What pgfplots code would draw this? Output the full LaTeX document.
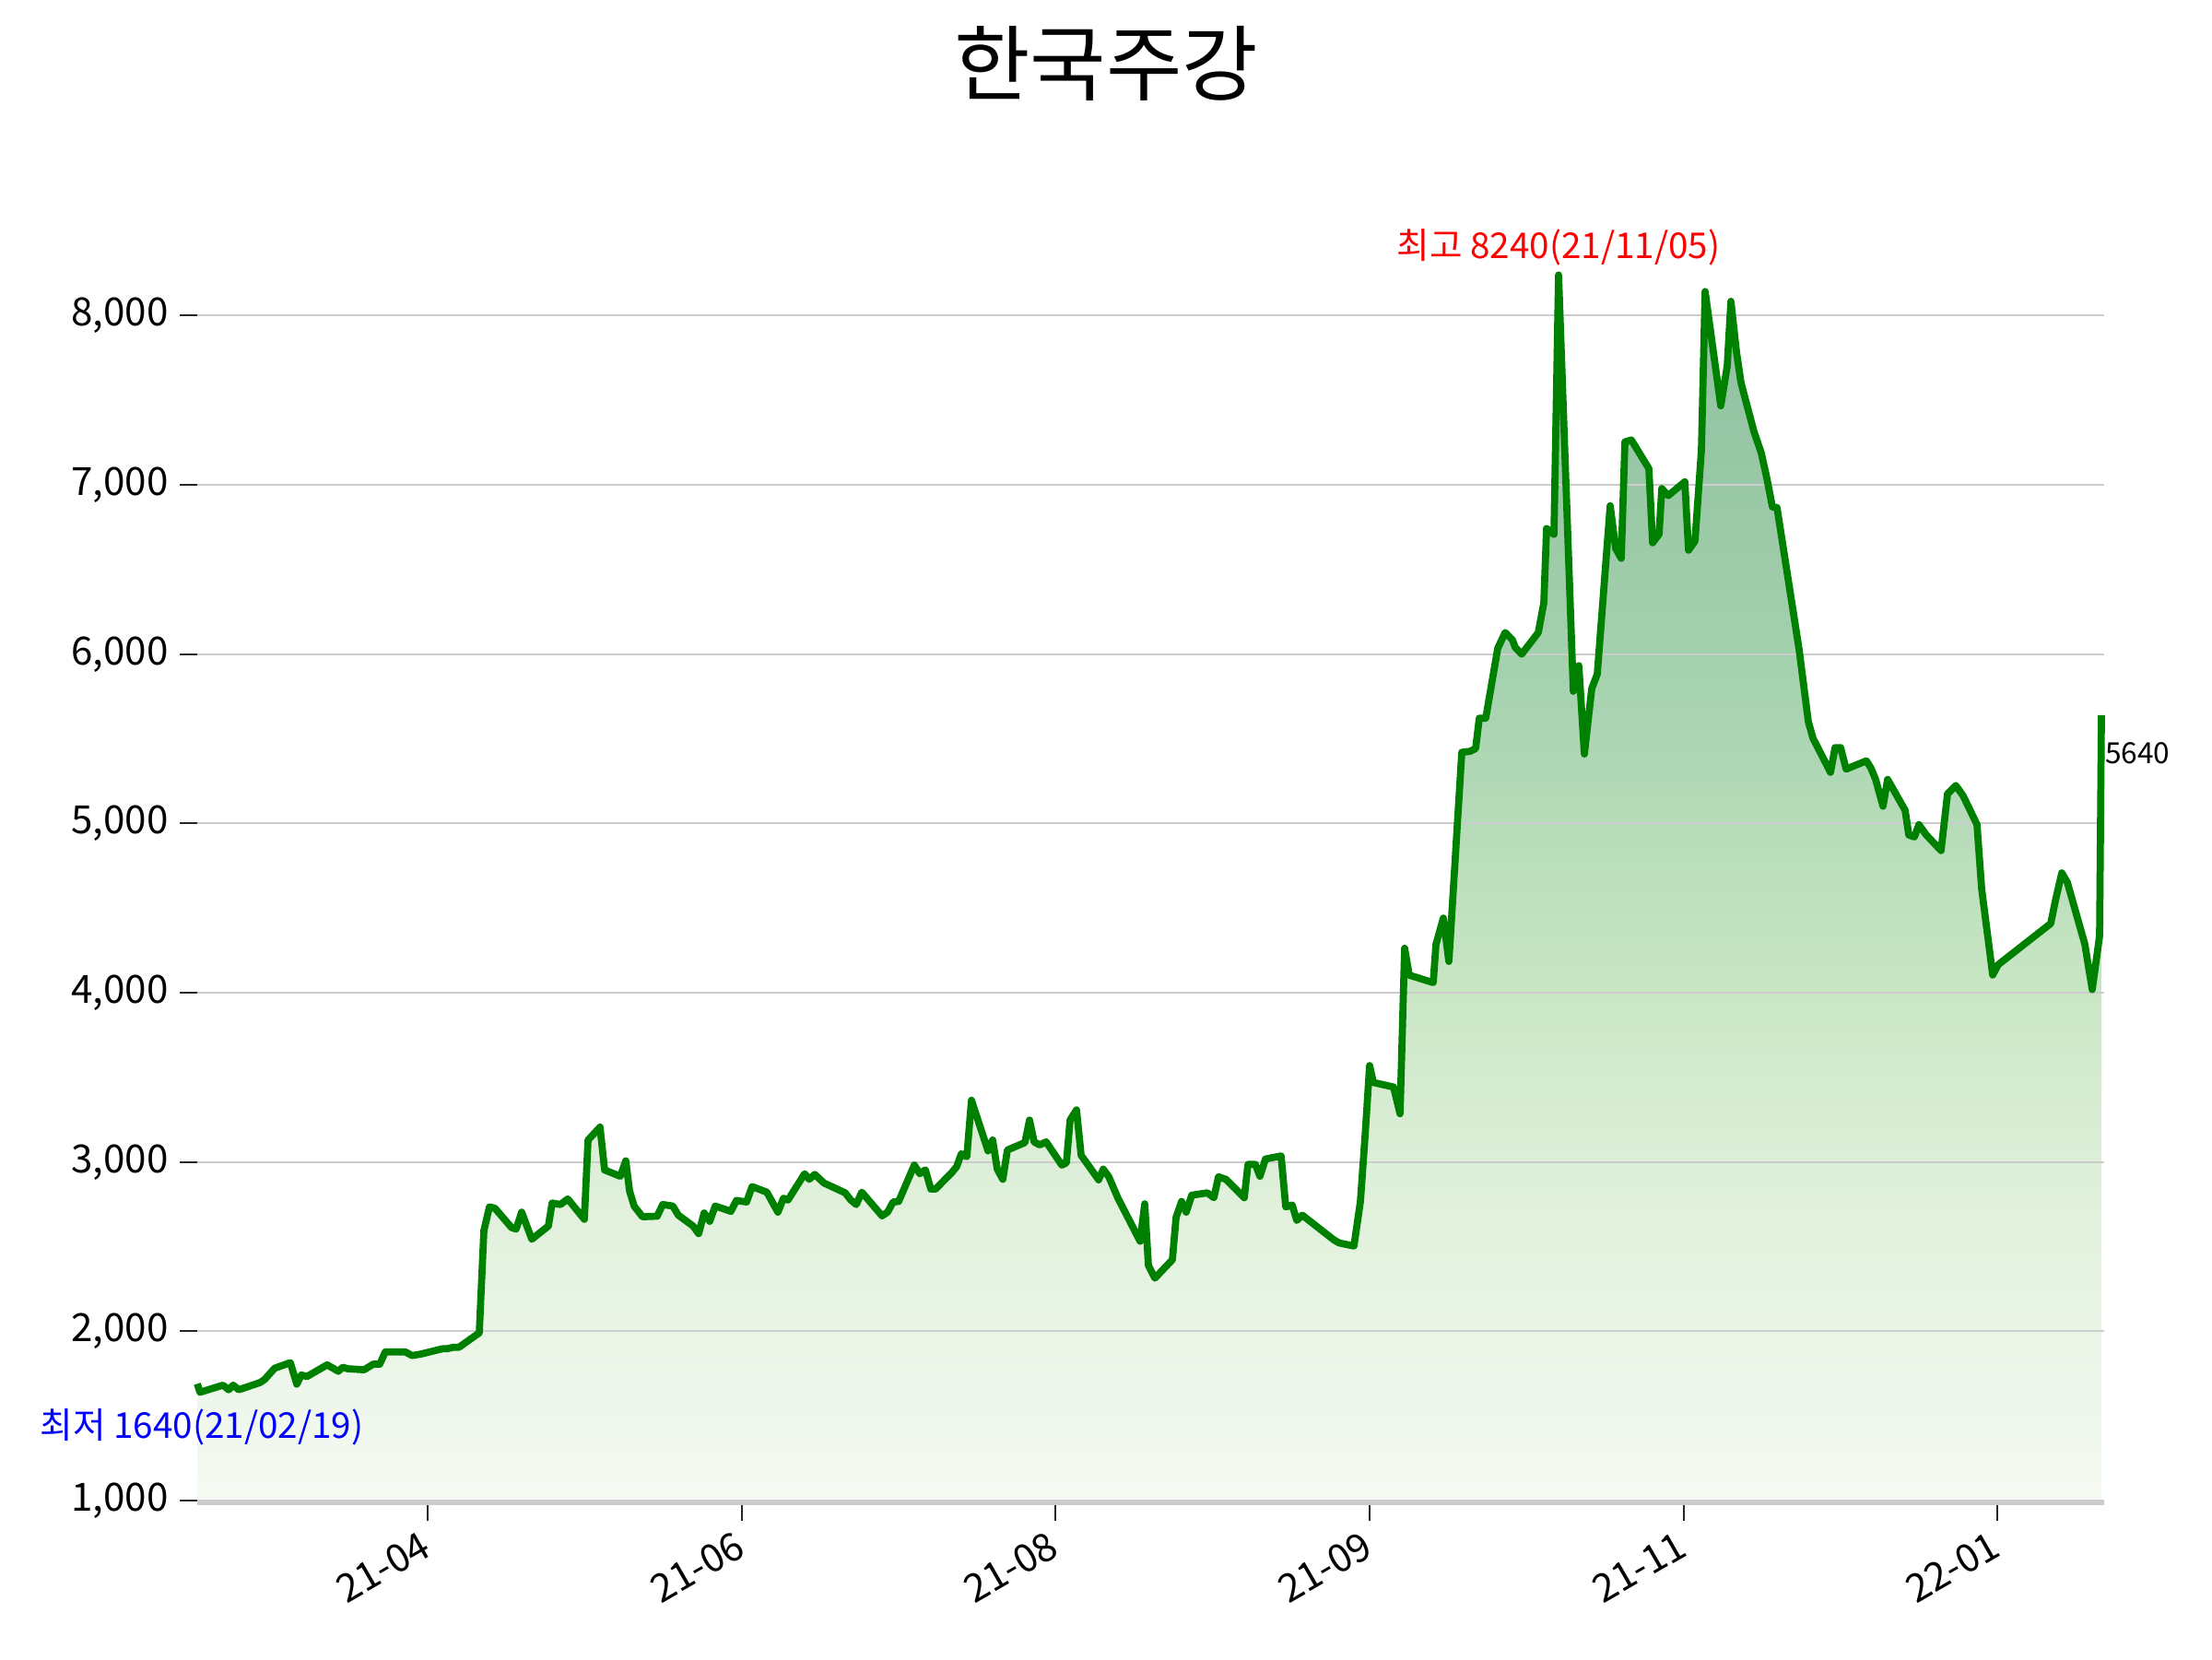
\documentclass[border=0pt]{standalone}
\usepackage{fontspec}
\setmainfont{Noto Sans CJK KR}
\usepackage{pgfplots}
\pgfplotsset{compat=1.18}
\usepackage{pgfplotstable}
\definecolor{lineg}{RGB}{0,128,0}
\definecolor{g0}{RGB}{246,250,244}
\definecolor{g1}{RGB}{221,239,216}
\definecolor{g2}{RGB}{201,230,196}
\definecolor{g3}{RGB}{163,208,173}
\definecolor{g4}{RGB}{142,191,159}
\pgfdeclareverticalshading{greenfade}{100bp}{color(0bp)=(g0); color(25bp)=(g0); color(39bp)=(g1); color(46bp)=(g2); color(59.5bp)=(g3); color(75bp)=(g4); color(100bp)=(g4)}

\pgfplotstableread{
x y
214 1690
217 1640
242 1682
248 1655
253 1682
259 1655
282 1697
287 1715
298 1782
315 1815
322 1688
327 1742
333 1733
355 1802
367 1764
372 1788
377 1779
395 1773
405 1806
412 1806
418 1878
440 1878
447 1857
457 1866
480 1897
485 1897
492 1906
498 1906
520 1991
525 2595
531 2735
537 2727
555 2613
560 2604
566 2704
577 2544
595 2622
599 2758
608 2749
616 2782
634 2662
638 3130
651 3206
656 2953
673 2916
679 3007
683 2831
688 2740
697 2677
713 2680
719 2749
730 2740
736 2686
752 2622
758 2577
764 2699
770 2650
776 2740
793 2709
799 2773
810 2764
816 2855
832 2822
844 2704
850 2786
855 2776
873 2931
878 2898
884 2927
894 2876
917 2818
923 2776
929 2749
935 2822
957 2682
963 2704
969 2764
975 2767
992 2982
998 2931
1004 2954
1010 2840
1015 2840
1033 2940
1038 2973
1043 3049
1049 3031
1054 3365
1072 3066
1077 3130
1082 2958
1088 2898
1093 3071
1112 3115
1117 3248
1122 3119
1128 3101
1135 3119
1152 2982
1157 2995
1161 3248
1168 3308
1173 3040
1192 2895
1197 2958
1203 2913
1213 2786
1237 2532
1242 2753
1246 2390
1253 2314
1272 2423
1276 2673
1282 2767
1287 2704
1293 2804
1310 2818
1317 2789
1322 2913
1330 2898
1350 2789
1354 2986
1362 2986
1367 2916
1373 3018
1390 3036
1395 2735
1402 2746
1407 2655
1413 2686
1447 2541
1453 2522
1469 2504
1476 2767
1481 3148
1486 3570
1490 3470
1512 3443
1519 3285
1524 4263
1529 4104
1555 4060
1558 4286
1566 4441
1572 4185
1586 5420
1595 5426
1601 5443
1605 5622
1612 5622
1625 6034
1633 6128
1641 6084
1644 6040
1651 6000
1669 6128
1675 6303
1678 6742
1686 6708
1691 8240
1707 5781
1713 5932
1719 5410
1727 5797
1733 5882
1747 6877
1753 6624
1759 6566
1763 7254
1770 7265
1789 7096
1793 6658
1800 6708
1803 6978
1810 6937
1828 7018
1832 6614
1839 6668
1846 7207
1850 8142
1867 7467
1874 7703
1878 8084
1884 7787
1889 7602
1903 7315
1911 7187
1917 7039
1923 6870
1928 6866
1952 6027
1962 5601
1967 5504
1986 5302
1991 5448
1997 5448
2003 5321
2025 5370
2030 5326
2035 5260
2043 5102
2048 5260
2067 5078
2071 4932
2077 4920
2082 4993
2090 4932
2106 4840
2113 5175
2122 5224
2130 5163
2145 4993
2150 4616
2162 4105
2168 4166
2225 4409
2230 4543
2237 4708
2243 4652
2262 4287
2270 4019
2278 4336
2280 5640
}\pricedata

\begin{document}
\begin{tikzpicture}
\path (0,0) rectangle (24cm,18cm);
\node[font=\fontsize{25.5}{30}\selectfont] at (12cm,17.31cm) {한국주강};
\begin{axis}[
  at={(2.14cm,1.69cm)}, anchor=south west,
  scale only axis, width=20.69cm, height=14.08cm,
  xmin=214, xmax=2283, ymin=984, ymax=8650,
  set layers,
  clip=false,
  axis x line*=bottom, axis y line*=left,
  x axis line style={draw=black!20, line width=1.2pt, -},
  y axis line style={draw=none},
  tick align=outside,
  major tick length=0.19cm,
  xtick style={draw=black!85, line width=0.6pt},
  ytick style={draw=black!85, line width=0.6pt},
  ymajorgrids, grid style={draw=black!20, line width=0.6pt},
  ytick={1000,2000,3000,4000,5000,6000,7000,8000},
  xtick={464,805,1145,1486,1827,2167},
  xticklabels={21-04,21-06,21-08,21-09,21-11,22-01},
  yticklabel style={font=\fontsize{12}{14}\selectfont, /pgf/number format/1000 sep={,}, /pgf/number format/assume math mode=true},
  xticklabel style={font=\fontsize{12}{14}\selectfont, xshift=-0.08cm, yshift=-0.04cm, rotate=30, anchor=north east, inner sep=1pt},
]
\addplot[on layer=axis background, shade, shading=greenfade, draw=none] table[x=x,y=y] {\pricedata} -- (axis cs:2280,984) -- (axis cs:214,984) -- cycle;
\addplot[draw=lineg, line width=2.2pt, line join=round] table[x=x,y=y] {\pricedata};
\node[text=red, font=\fontsize{11}{13}\selectfont, anchor=base, yshift=0.18cm] at (axis cs:1691,8240) {최고 8240(21/11/05)};
\node[text=blue, font=\fontsize{11}{13}\selectfont, anchor=center, yshift=-0.38cm] at (axis cs:219,1640) {최저 1640(21/02/19)};
\node[text=black, font=\fontsize{9}{11}\selectfont, anchor=west, inner sep=1pt, yshift=-0.41cm] at (axis cs:2280,5640) {5640};
\end{axis}
\end{tikzpicture}
\end{document}
